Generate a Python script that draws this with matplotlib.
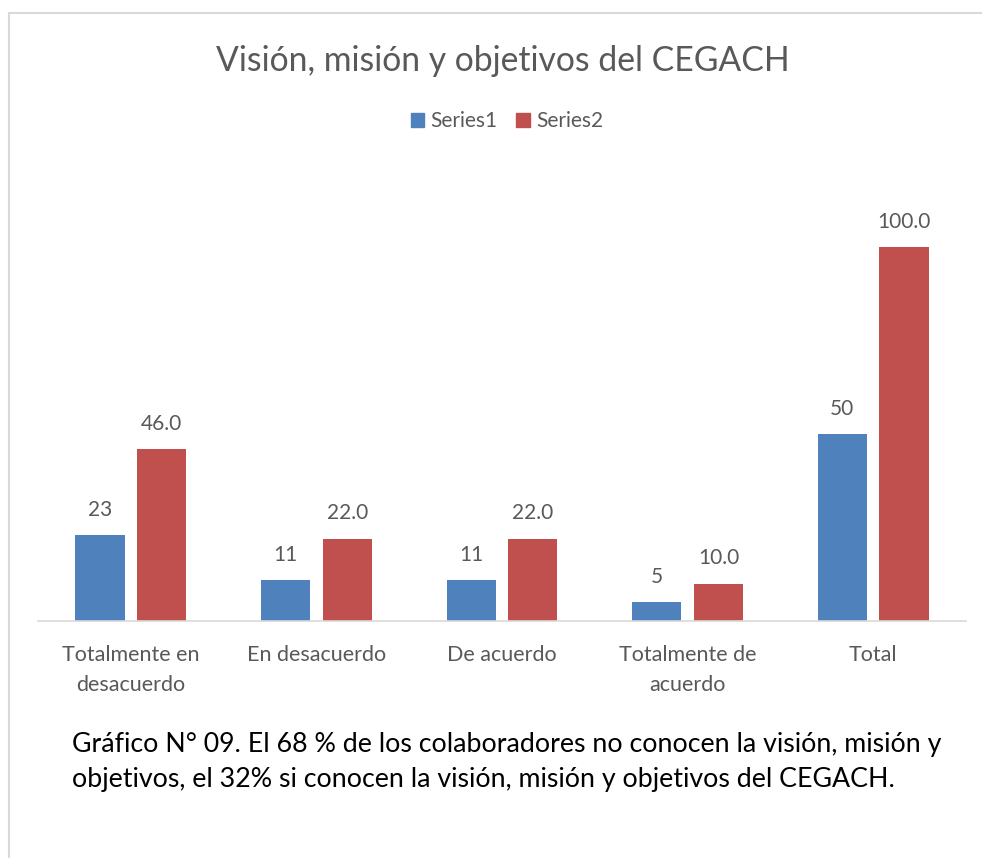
import matplotlib
matplotlib.use("Agg")
import matplotlib.pyplot as plt
import numpy as np
from matplotlib.lines import Line2D
from matplotlib.patches import Patch

categories = ["Totalmente en\ndesacuerdo", "En desacuerdo", "De acuerdo", "Totalmente de\nacuerdo", "Total"]
series1 = [23, 11, 11, 5, 50]
series2 = [46.0, 22.0, 22.0, 10.0, 100.0]
series_names = ["Series1", "Series2"]
title = "Visión, misión y objetivos del CEGACH"
caption = ("Gráfico N° 09. El 68 % de los colaboradores no conocen la visión, misión y\n"
           "objetivos, el 32% si conocen la visión, misión y objetivos del CEGACH.")

FONT = "Lato"
GRAY = "#595959"
BLUE = "#4F81BD"
RED = "#C0504D"

fig = plt.figure(figsize=(9.82, 8.58), dpi=100)
W, H = 982, 858

# chart border (light gray)
fig.add_artist(Line2D([8.5 / W, 1.0], [1 - 13 / H, 1 - 13 / H], color="#D9D9D9", lw=1.5, transform=fig.transFigure))
fig.add_artist(Line2D([8.5 / W, 8.5 / W], [0, 1 - 13 / H], color="#D9D9D9", lw=1.5, transform=fig.transFigure))

ax = fig.add_axes([38 / W, 1 - 621 / H, (966 - 38) / W, (621 - 172) / H])
x = np.arange(len(categories))
bw = 0.265
off = 0.166
b1 = ax.bar(x - off, series1, bw, color=BLUE, label=series_names[0], zorder=2)
b2 = ax.bar(x + off, series2, bw, color=RED, label=series_names[1], zorder=2)
ax.set_xlim(-0.5, len(categories) - 0.5)
ax.set_ylim(0, 120)
for s in ["top", "right", "left"]:
    ax.spines[s].set_visible(False)
ax.spines["bottom"].set_color("#D9D9D9")
ax.spines["bottom"].set_linewidth(1.2)
ax.set_yticks([])
ax.set_xticks(x)
ax.set_xticklabels(categories, fontsize=15.5, color=GRAY, family=FONT, linespacing=1.68)
ax.tick_params(axis="x", length=0, pad=17)

for bars, vals, fmt in [(b1, series1, "{:d}"), (b2, series2, "{:.1f}")]:
    for r, v in zip(bars, vals):
        ax.annotate(fmt.format(v), (r.get_x() + r.get_width() / 2, v), xytext=(0, 11),
                    textcoords="offset points", ha="center", va="bottom",
                    fontsize=15, color=GRAY, family=FONT)

fig.text(503 / W, 1 - 61 / H, title, ha="center", va="center", fontsize=24.3, color=GRAY, family=FONT)

leg = fig.legend(handles=[Patch(color=BLUE, label=series_names[0]), Patch(color=RED, label=series_names[1])],
                 loc="center", bbox_to_anchor=(507 / W, 1 - 121 / H), ncol=2, frameon=False,
                 prop={"family": FONT, "size": 15}, handlelength=0.65, handleheight=0.65,
                 handletextpad=0.3, columnspacing=0.9)
for t in leg.get_texts():
    t.set_color(GRAY)

fig.text(72 / W, 1 - 762 / H, caption, ha="left", va="center", fontsize=19.3, color="#000000",
         family=FONT, linespacing=1.5)

fig.savefig("out.png", dpi=100, facecolor="white")
